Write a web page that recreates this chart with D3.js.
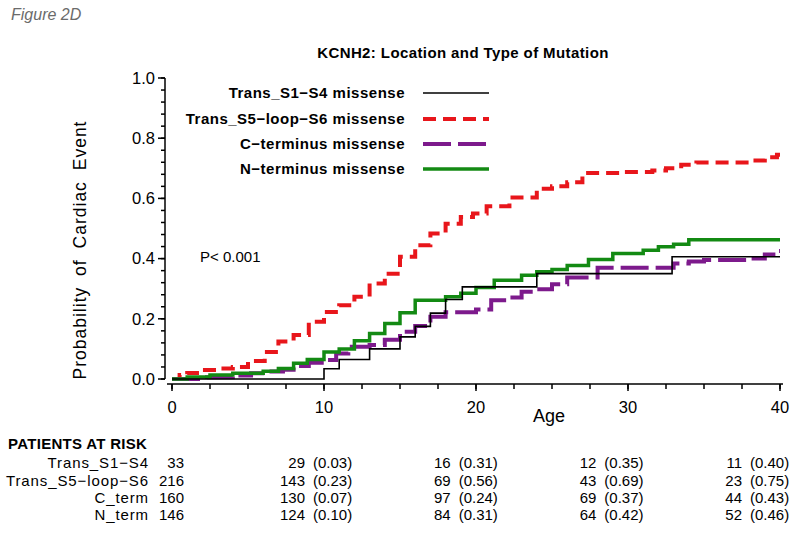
<!DOCTYPE html>
<html>
<head>
<meta charset="utf-8">
<script src="https://cdn.jsdelivr.net/npm/d3@7"></script>
<style>
  html, body { margin: 0; padding: 0; background: #fff; }
  svg { display: block; font-family: "Liberation Sans", Arial, Helvetica, sans-serif; }
</style>
</head>
<body>
<svg id="chart" width="800" height="534"></svg>
<script>
// ---------------- data ----------------
const ageTicks = [0, 10, 20, 30, 40];
const probTicks = [0, 0.2, 0.4, 0.6, 0.8, 1.0];

const seriesNames = ["Trans_S1\u2212S4 missense", "Trans_S5\u2212loop\u2212S6 missense", "C\u2212terminus missense", "N\u2212terminus missense"];
const seriesColors = ["#000000", "#e8161b", "#7d1a8c", "#138a13"];

// Trans_S1-S4 (black)
const s1s4Age  = [0, 10, 11, 13, 15, 16, 17, 18, 19.1, 24, 32.9, 40];
const s1s4Prob = [0, 0.034, 0.065, 0.10, 0.14, 0.175, 0.219, 0.264, 0.306, 0.35, 0.406, 0.406];

// Trans_S5-loop-S6 (red)
const s5s6Age  = [0, 0.5, 1.0, 1.8, 2.9, 4.0, 5.0, 6.1, 7.0, 8.0, 9.0, 10.0, 11.0, 12.0, 13.0, 14.0, 15.0, 16.0, 17.0, 18.0, 19.0, 19.8, 20.7, 22.2, 24.0, 25.0, 26.0, 27.0, 29.5, 31.6, 32.5, 33.5, 34.5, 38.0, 39.0, 39.8, 40];
const s5s6Prob = [0, 0.013, 0.02, 0.03, 0.035, 0.04, 0.06, 0.09, 0.125, 0.146, 0.19, 0.223, 0.245, 0.273, 0.317, 0.35, 0.406, 0.444, 0.483, 0.516, 0.538, 0.55, 0.574, 0.603, 0.632, 0.64, 0.654, 0.684, 0.688, 0.693, 0.70, 0.712, 0.719, 0.726, 0.737, 0.745, 0.745];

// C-terminus (purple)
const ctermAge  = [0, 2.3, 4.0, 5.2, 6.2, 7.3, 8.0, 9.0, 10.0, 10.8, 11.6, 13.0, 14.0, 15.0, 16.0, 17.0, 18.0, 20.0, 21.0, 22.0, 23.0, 24.0, 25.0, 26.0, 28.0, 33.0, 34.0, 35.0, 38.0, 39.0, 39.8, 40];
const ctermProb = [0, 0.006, 0.012, 0.019, 0.025, 0.031, 0.043, 0.054, 0.063, 0.085, 0.107, 0.113, 0.13, 0.157, 0.176, 0.207, 0.222, 0.231, 0.262, 0.271, 0.29, 0.298, 0.315, 0.337, 0.37, 0.384, 0.39, 0.395, 0.40, 0.414, 0.425, 0.425];

// N-terminus (green)
const ntermAge  = [0, 1.0, 2.5, 4.0, 6.0, 7.0, 8.0, 8.9, 10.0, 11.0, 12.0, 13.0, 14.0, 15.0, 16.0, 18.0, 19.0, 20.0, 21.2, 23.0, 24.0, 25.0, 26.0, 27.4, 29.0, 31.0, 32.0, 33.0, 34.0, 40];
const ntermProb = [0, 0.007, 0.013, 0.019, 0.026, 0.035, 0.052, 0.065, 0.09, 0.10, 0.127, 0.151, 0.184, 0.22, 0.262, 0.273, 0.285, 0.304, 0.328, 0.345, 0.356, 0.364, 0.377, 0.397, 0.417, 0.428, 0.439, 0.448, 0.463, 0.463];

// patients at risk table
const riskLabels = ["Trans_S1\u2212S4", "Trans_S5\u2212loop\u2212S6", "C_term", "N_term"];
const riskStart = [33, 216, 160, 146];
const riskAges = [10, 20, 30, 40];
const riskCounts = [[29, 16, 12, 11], [143, 69, 43, 23], [130, 97, 69, 44], [124, 84, 64, 52]];
const riskProbs = [["0.03", "0.31", "0.35", "0.40"], ["0.23", "0.56", "0.69", "0.75"], ["0.07", "0.24", "0.37", "0.43"], ["0.10", "0.31", "0.42", "0.46"]];

// ---------------- drawing ----------------
const svg = d3.select("#chart");
const x = d3.scaleLinear().domain([0, 40]).range([172, 780]);
const y = d3.scaleLinear().domain([0, 1]).range([379, 78]);

svg.append("text").attr("x", 11).attr("y", 20)
  .attr("font-size", 16).attr("font-style", "italic").attr("fill", "#6b6b6b")
  .text("Figure 2D");

svg.append("text").attr("x", 463).attr("y", 58).attr("text-anchor", "middle")
  .attr("font-size", 15).attr("font-weight", "bold").attr("letter-spacing", 0.4)
  .text("KCNH2:  Location and Type of Mutation");

// y axis
const yAxisX = 165;
const yg = svg.append("g").attr("stroke", "#000");
yg.append("line").attr("x1", yAxisX).attr("x2", yAxisX).attr("y1", y(1)).attr("y2", y(0)).attr("stroke-width", 1.5);
const yMinor = d3.range(0, 1.0001, 0.04);
yg.selectAll("line.minor").data(yMinor).join("line").attr("class", "minor")
  .attr("x1", yAxisX - 4).attr("x2", yAxisX).attr("y1", d => y(d)).attr("y2", d => y(d)).attr("stroke-width", 1.5);
yg.selectAll("line.major").data(probTicks).join("line").attr("class", "major")
  .attr("x1", yAxisX - 7).attr("x2", yAxisX).attr("y1", d => y(d)).attr("y2", d => y(d)).attr("stroke-width", 1.5);
svg.selectAll("text.ytick").data(probTicks).join("text").attr("class", "ytick")
  .attr("x", 155).attr("y", d => y(d)).attr("dy", "0.35em").attr("text-anchor", "end")
  .attr("font-size", 16.5).text(d => d3.format(".1f")(d));

// x axis
const xAxisY = 384;
const xg = svg.append("g").attr("stroke", "#000");
xg.append("line").attr("x1", x(0) - 5).attr("x2", x(40) + 3).attr("y1", xAxisY).attr("y2", xAxisY).attr("stroke-width", 1.5);
xg.selectAll("line.minor").data(d3.range(0, 40.001, 2.5)).join("line").attr("class", "minor")
  .attr("x1", d => x(d)).attr("x2", d => x(d)).attr("y1", xAxisY).attr("y2", xAxisY + 5).attr("stroke-width", 1.5);
xg.selectAll("line.major").data(ageTicks).join("line").attr("class", "major")
  .attr("x1", d => x(d)).attr("x2", d => x(d)).attr("y1", xAxisY).attr("y2", xAxisY + 7).attr("stroke-width", 1.5);
svg.selectAll("text.xtick").data(ageTicks).join("text").attr("class", "xtick")
  .attr("x", d => x(d)).attr("y", 407).attr("dy", "0.35em").attr("text-anchor", "middle")
  .attr("font-size", 16.5).text(d => d);

svg.append("text").attr("x", 549).attr("y", 416).attr("dy", "0.35em").attr("text-anchor", "middle")
  .attr("font-size", 18).text("Age");

svg.append("text").attr("transform", "translate(86,250) rotate(-90)").attr("text-anchor", "middle")
  .attr("font-size", 17.5).attr("word-spacing", 5).attr("letter-spacing", 1)
  .text("Probability of Cardiac Event");

svg.append("text").attr("x", 200).attr("y", 257).attr("dy", "0.35em")
  .attr("font-size", 15).text("P< 0.001");

// curves
const curves = [
  {age: s1s4Age, prob: s1s4Prob, width: 1.6, dash: null},
  {age: s5s6Age, prob: s5s6Prob, width: 4, dash: "13,7"},
  {age: ctermAge, prob: ctermProb, width: 4, dash: "28,7"},
  {age: ntermAge, prob: ntermProb, width: 3.5, dash: null}
];
const line = d3.line().x(d => x(d[0])).y(d => y(d[1])).curve(d3.curveStepAfter);
const drawOrder = [1, 2, 3, 0];
drawOrder.forEach(i => {
  const c = curves[i];
  svg.append("path")
    .attr("d", line(c.age.map((a, k) => [a, c.prob[k]])))
    .attr("fill", "none").attr("stroke", seriesColors[i]).attr("stroke-width", c.width)
    .attr("stroke-dasharray", c.dash);
});

// legend
const legendY = [93, 119, 144, 169];
seriesNames.forEach((name, i) => {
  svg.append("text").attr("x", 405).attr("y", legendY[i]).attr("dy", "0.35em")
    .attr("text-anchor", "end").attr("font-size", 15).attr("font-weight", "bold").attr("letter-spacing", 0.5)
    .text(name);
  svg.append("line").attr("x1", 423).attr("x2", 489).attr("y1", legendY[i]).attr("y2", legendY[i])
    .attr("stroke", seriesColors[i]).attr("stroke-width", curves[i].width)
    .attr("stroke-dasharray", curves[i].dash);
});

// risk table
svg.append("text").attr("x", 8).attr("y", 444).attr("dy", "0.35em")
  .attr("font-size", 15).attr("font-weight", "bold").attr("letter-spacing", 0.3).text("PATIENTS AT RISK");
const rowY = [463, 481, 498, 515];
const tableX = d3.scaleLinear().domain([10, 40]).range([313, 750]);
riskLabels.forEach((lab, r) => {
  svg.append("text").attr("x", 149).attr("y", rowY[r]).attr("dy", "0.35em").attr("text-anchor", "end")
    .attr("font-size", 15).attr("letter-spacing", 0.9).text(lab);
  svg.append("text").attr("x", 184).attr("y", rowY[r]).attr("dy", "0.35em").attr("text-anchor", "end")
    .attr("font-size", 15).text(riskStart[r]);
  riskAges.forEach((a, c) => {
    svg.append("text").attr("x", tableX(a) - 8).attr("y", rowY[r]).attr("dy", "0.35em").attr("text-anchor", "end")
      .attr("font-size", 15).text(riskCounts[r][c]);
    svg.append("text").attr("x", tableX(a)).attr("y", rowY[r]).attr("dy", "0.35em")
      .attr("font-size", 15).text("(" + riskProbs[r][c] + ")");
  });
});
</script>
</body>
</html>
